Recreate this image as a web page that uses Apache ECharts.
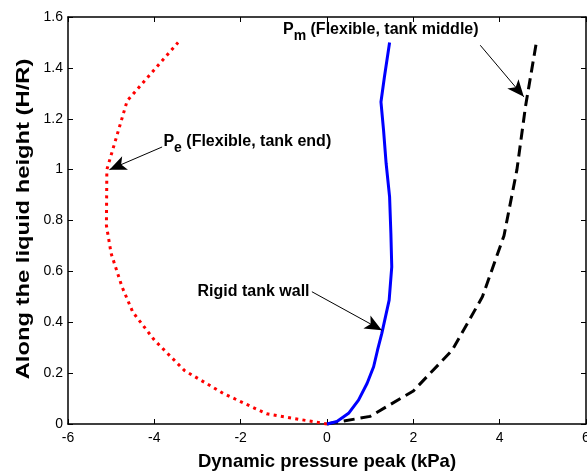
<!DOCTYPE html>
<html>
<head>
<meta charset="utf-8">
<script src="https://cdn.jsdelivr.net/npm/echarts@6/dist/echarts.min.js"></script>
<style>
  html, body { margin: 0; padding: 0; background: #fff; overflow: hidden; }
  #chart { width: 587px; height: 474px; }
</style>
</head>
<body>
<div id="chart"></div>
<script>
// Axis ranges and tick labels
const xTicks = [-6, -4, -2, 0, 2, 4, 6];
const yTicks = [0, 0.2, 0.4, 0.6, 0.8, 1, 1.2, 1.4, 1.6];

// Dynamic pressure peak (kPa) vs. height along the liquid (H/R)
const peHeight   = [0, 0.04, 0.12, 0.21, 0.33, 0.44, 0.54, 0.67, 0.78, 1.0, 1.27, 1.5];
const pePressure = [0, -1.4, -2.4, -3.3, -4.0, -4.5, -4.75, -5.0, -5.11, -5.1, -4.63, -3.45];

const pmHeight   = [0, 0.03, 0.13, 0.29, 0.5, 0.74, 1.0, 1.25, 1.5];
const pmPressure = [0, 1.0, 2.0, 2.9, 3.6, 4.1, 4.4, 4.6, 4.85];

const rigidHeight   = [0, 0.01, 0.042, 0.094, 0.16, 0.225, 0.29, 0.356, 0.487, 0.618, 0.749, 0.893, 1.024, 1.155, 1.266, 1.364, 1.5];
const rigidPressure = [0, 0.23, 0.5, 0.73, 0.93, 1.08, 1.17, 1.27, 1.44, 1.5, 1.48, 1.45, 1.37, 1.31, 1.25, 1.33, 1.45];

// Callouts: label anchor, arrow start, arrow tip (data coordinates)
const noteNames = ['P', 'P', ''];
const noteSubs  = ['m', 'e', ''];
const noteTexts = [' (Flexible, tank middle)', ' (Flexible, tank end)', 'Rigid tank wall'];
const noteAt    = [[-1.02, 1.551], [-3.79, 1.109], [-3.0, 0.522]];
const noteFrom  = [[3.55, 1.489], [-3.82, 1.089], [-0.35, 0.52]];
const noteTo    = [[4.56, 1.286], [-5.04, 1.0], [1.27, 0.369]];

const xTitle = 'Dynamic pressure peak (kPa)';
const yTitle = 'Along the liquid height (H/R)';

const pairs = (xs, ys) => xs.map((x, i) => [x, ys[i]]);

const FONT = '"Liberation Sans", Arial, sans-serif';

const chart = echarts.init(document.getElementById('chart'), null, { renderer: 'canvas' });

const axisLine = { show: true, onZero: false, lineStyle: { color: '#000', width: 1.5 } };
const axisTick = { show: true, inside: true, length: 5, lineStyle: { color: '#000', width: 1 } };

const labelMarks = noteTexts.map((t, i) => {
  const txt = noteNames[i]
    ? '{p|' + noteNames[i] + '}{s|' + noteSubs[i] + '}{p|' + t + '}'
    : '{p|' + t + '}';
  return {
    coord: noteAt[i],
    symbolSize: 0,
    label: {
      show: true,
      position: 'right',
      distance: 0,
      formatter: txt,
      rich: {
        p: { fontFamily: FONT, fontWeight: 'bold', fontSize: 16, color: '#000' },
        s: { fontFamily: FONT, fontWeight: 'bold', fontSize: 14, color: '#000', padding: [13, 0, 0, 0] }
      }
    }
  };
});

const arrowLines = noteFrom.map((f, i) => [
  { coord: f, symbol: 'none' },
  { coord: noteTo[i], symbol: 'arrow', symbolSize: [11, 17] }
]);

chart.setOption({
  animation: false,
  backgroundColor: '#fff',
  grid: { left: 68, right: 1, top: 17, bottom: 50, containLabel: false, outerBoundsMode: 'none' },
  xAxis: [
    {
      type: 'value', min: xTicks[0], max: xTicks[xTicks.length - 1], interval: 2,
      position: 'bottom',
      name: xTitle, nameLocation: 'middle', nameGap: 28,
      nameTextStyle: { fontFamily: FONT, fontWeight: 'bold', fontSize: 18.5, color: '#000' },
      axisLine, axisTick,
      axisLabel: { fontFamily: FONT, fontSize: 14, color: '#000', margin: 7, showMaxLabel: true, showMinLabel: true },
      splitLine: { show: false }
    },
    {
      type: 'value', min: xTicks[0], max: xTicks[xTicks.length - 1], interval: 2,
      position: 'top', axisLine, axisTick, axisLabel: { show: false }, splitLine: { show: false }
    }
  ],
  yAxis: [
    {
      type: 'value', min: yTicks[0], max: yTicks[yTicks.length - 1], interval: 0.2,
      position: 'left',
      axisLine, axisTick,
      axisLabel: { fontFamily: FONT, fontSize: 14, color: '#000', margin: 5,
                   formatter: v => String(Math.round(v * 10) / 10) },
      splitLine: { show: false }
    },
    {
      type: 'value', min: yTicks[0], max: yTicks[yTicks.length - 1], interval: 0.2,
      position: 'right', axisLine, axisTick, axisLabel: { show: false }, splitLine: { show: false }
    }
  ],
  // vertical axis title, drawn taller along its reading direction
  graphic: [{
    type: 'text',
    x: 24, y: 219,
    rotation: Math.PI / 2,
    scaleX: 1.32,
    style: {
      text: yTitle,
      font: 'bold 18px ' + FONT,
      fill: '#000',
      align: 'center',
      verticalAlign: 'middle'
    },
    silent: true
  }],
  series: [
    {
      name: 'Pe', type: 'line', data: pairs(pePressure, peHeight),
      symbol: 'none', smooth: false, clip: false,
      lineStyle: { color: '#ff0000', width: 3, type: [3, 4.3], cap: 'butt' }
    },
    {
      name: 'Pm', type: 'line', data: pairs(pmPressure, pmHeight),
      symbol: 'none', smooth: false, clip: false,
      lineStyle: { color: '#000', width: 3, type: [11, 6], cap: 'butt' }
    },
    {
      name: 'Rigid', type: 'line', data: pairs(rigidPressure, rigidHeight),
      symbol: 'none', smooth: false, clip: false,
      lineStyle: { color: '#0000ff', width: 3 }
    },
    {
      name: 'callouts', type: 'line', data: [], symbol: 'none',
      markPoint: { symbol: 'circle', data: labelMarks, silent: true },
      markLine: {
        silent: true,
        symbol: ['none', 'arrow'],
        symbolSize: 15,
        label: { show: false },
        lineStyle: { color: '#000', width: 1, type: 'solid' },
        itemStyle: { color: '#000' },
        emphasis: { disabled: true },
        data: arrowLines
      }
    }
  ]
});
</script>
</body>
</html>
